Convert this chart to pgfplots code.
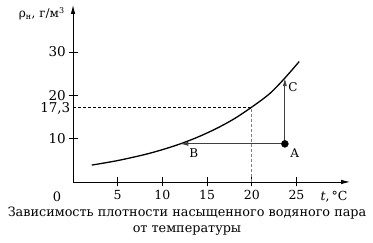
\documentclass[border=0pt]{standalone}
\usepackage{fontspec}
\setmainfont{DejaVu Serif}
\usepackage{pgfplots}
\pgfplotsset{compat=1.18}
\usetikzlibrary{arrows.meta}
\begin{document}
\begin{tikzpicture}
\begin{axis}[
 scale only axis, width=277pt, height=177pt,
 xmin=0, xmax=31, ymin=0, ymax=40.9,
 axis lines=left,
 axis line style={line width=0.9pt, -{Latex[length=9pt,width=4.5pt]}},
 xtick={5,10,15,20,25}, xticklabels={5,10,15,20,25},
 ytick={10,20,30}, yticklabels={10,20,30},
 extra y ticks={17.3}, extra y tick labels={17{,}3},
 extra y tick style={major tick length=0pt, yticklabel style={yshift=-1.5pt}},
 tick style={black, line width=0.9pt}, major tick length=9pt,
 xtick align=center, ytick align=center,
 xticklabel style={font=\fontsize{12.5}{12.5}\selectfont},
 yticklabel style={font=\fontsize{13.5}{13.5}\selectfont, inner sep=0.5pt, xshift=-2pt},
 clip=false,
]
\path (axis cs:-8.17,-14.09) rectangle (axis cs:33.56,42.03);
\addplot[black, line width=0.6pt, dash pattern=on 3pt off 2pt] coordinates {(0,17.3) (20,17.3)};
\addplot[gray, line width=0.6pt, dash pattern=on 3pt off 2pt] coordinates {(20,0) (20,17.3)};
\addplot[black, line width=1.3pt, smooth] coordinates {
 (2.1,3.9) (5,4.94) (8,6.32) (10,7.46) (12,8.8) (14,10.4) (16,12.3) (18,14.55) (20,17.3) (22,20.4) (23.7,24.0) (25.3,27.8)};
\addplot[black!75, line width=0.8pt, -{Latex[length=8pt,width=4pt]}] coordinates {(23.7,8.8) (12,8.8)};
\addplot[black!75, line width=0.8pt, -{Latex[length=8pt,width=4pt]}] coordinates {(23.7,8.8) (23.7,24.0)};
\addplot[black, only marks, mark=*, mark size=3.5pt] coordinates {(23.7,8.8)};
\node[font=\fontsize{12}{12}\selectfont] at (axis cs:24.8,6.6) {A};
\node[font=\fontsize{12}{12}\selectfont] at (axis cs:13.5,6.6) {B};
\node[font=\fontsize{12}{12}\selectfont] at (axis cs:24.6,21.9) {C};
\node[font=\fontsize{13}{13}\selectfont] at (axis cs:-1.79,-3.46) {0};
\node[font=\fontsize{12.5}{12.5}\selectfont] at (axis cs:29.2,-3.46) {\textit{t},\,°C};
\node[font=\fontsize{12}{12}\selectfont] at (axis cs:-3.5,38.8) {ρ\textsubscript{н}, г/м\textsuperscript{3}};
\node[font=\fontsize{12.8}{12.8}\selectfont] at (axis cs:12.75,-7.16) {Зависимость плотности насыщенного водяного пара};
\node[font=\fontsize{12.8}{12.8}\selectfont] at (axis cs:12.75,-11.3) {от температуры};
\end{axis}
\end{tikzpicture}
\end{document}
